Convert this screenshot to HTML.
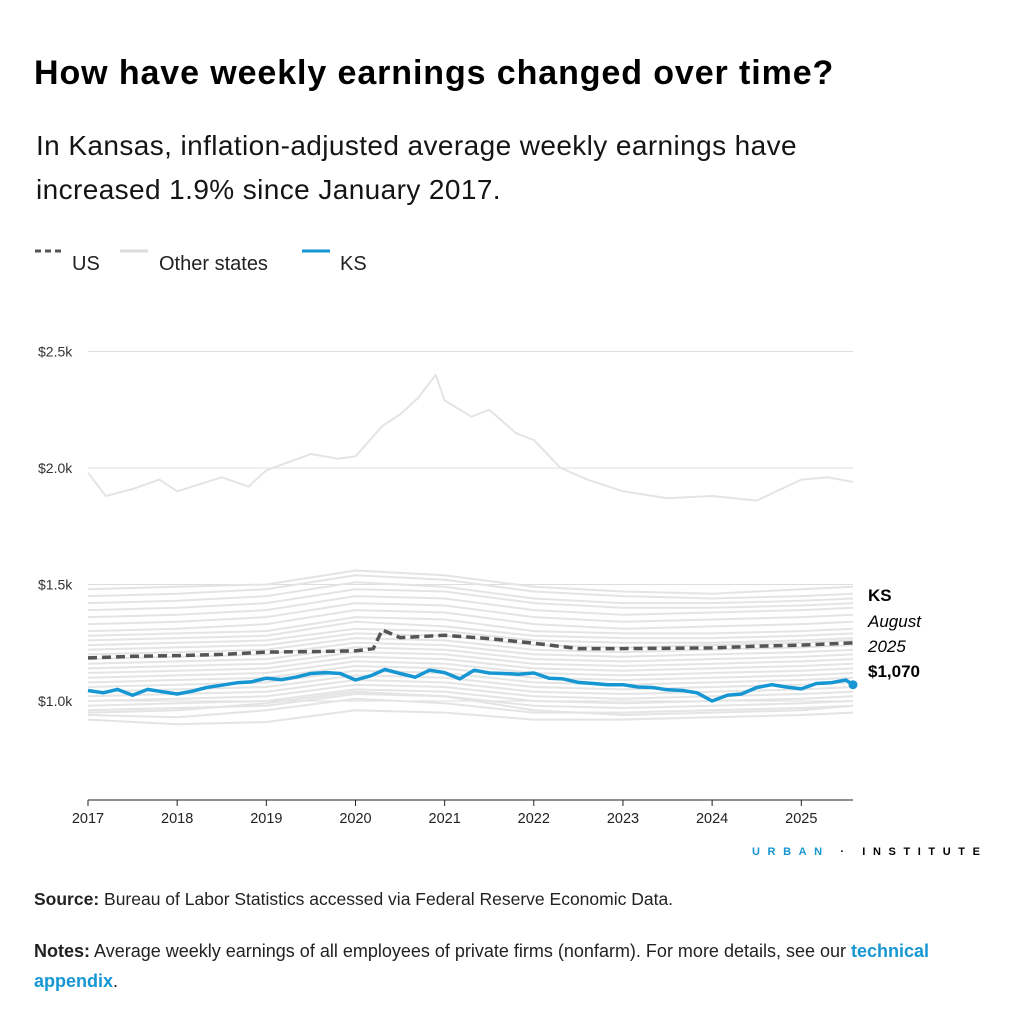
<!DOCTYPE html>
<html><head><meta charset="utf-8">
<style>
body{margin:0;background:#fff;font-family:"Liberation Sans",sans-serif;color:#000;}
#wrap{position:relative;width:1024px;height:1024px;overflow:hidden;}
.t{position:absolute;white-space:nowrap;}
</style></head><body>
<div id="wrap">
<div class="t" style="left:34px;top:54px;font-size:34px;font-weight:bold;letter-spacing:0.9px;">How have weekly earnings changed over time?</div>
<div class="t" style="left:36px;top:124px;font-size:28px;line-height:44px;letter-spacing:0.4px;color:#151515;">In Kansas, inflation-adjusted average weekly earnings have<br>increased 1.9% since January 2017.</div>
<svg width="1024" height="1024" style="position:absolute;left:0;top:0" id="svg">
<g font-family="Liberation Sans, sans-serif" font-size="20">
<line x1="35" y1="251" x2="63" y2="251" stroke="#555" stroke-width="3" stroke-dasharray="6,4"/>
<text x="72" y="270" fill="#222">US</text>
<line x1="120" y1="251" x2="148" y2="251" stroke="#ddd" stroke-width="3"/>
<text x="159" y="270" fill="#222">Other states</text>
<line x1="302" y1="251" x2="330" y2="251" stroke="#1696d2" stroke-width="3"/>
<text x="340" y="270" fill="#222">KS</text>
</g>
<g id="grid"></g><g id="others"></g><g id="main"></g><g id="axis"></g>
<g font-family="Liberation Sans, sans-serif" font-size="17">
<text x="868" y="601" font-weight="bold">KS</text>
<text x="868" y="627" font-style="italic">August</text>
<text x="868" y="652" font-style="italic">2025</text>
<text x="868" y="677" font-weight="bold">$1,070</text>
</g>
</svg>
<div class="t" style="left:752px;top:846px;font-size:11px;font-weight:bold;letter-spacing:7.6px;"><span style="color:#1696d2">URBAN</span> · INSTITUTE</div>
<div class="t" style="left:34px;top:889px;font-size:17.5px;color:#222;"><b>Source:</b> Bureau of Labor Statistics accessed via Federal Reserve Economic Data.</div>
<div class="t" style="left:34px;top:936px;font-size:18px;line-height:30px;color:#222;"><b>Notes:</b> Average weekly earnings of all employees of private firms (nonfarm). For more details, see our <span style="color:#1696d2;font-weight:bold">technical<br>appendix</span>.</div>
</div>
<script>
const yTicks=[1000,1500,2000,2500];
const yTickLabels=["$1.0k","$1.5k","$2.0k","$2.5k"];
const xYears=[2017,2018,2019,2020,2021,2022,2023,2024,2025];
const ksDates=[2017,2017.17,2017.33,2017.5,2017.67,2017.83,2018,2018.17,2018.33,2018.5,2018.67,2018.83,2019,2019.17,2019.33,2019.5,2019.67,2019.83,2020,2020.17,2020.33,2020.5,2020.67,2020.83,2021,2021.17,2021.33,2021.5,2021.67,2021.83,2022,2022.17,2022.33,2022.5,2022.67,2022.83,2023,2023.17,2023.33,2023.5,2023.67,2023.83,2024,2024.17,2024.33,2024.5,2024.67,2024.83,2025,2025.17,2025.33,2025.5,2025.58];
const ksValues=[1045,1035,1050,1025,1050,1040,1030,1042,1058,1068,1078,1082,1098,1092,1102,1118,1122,1118,1090,1108,1135,1118,1102,1132,1122,1095,1132,1120,1118,1115,1120,1098,1095,1080,1075,1070,1070,1060,1058,1048,1045,1035,1000,1025,1030,1058,1070,1060,1052,1075,1078,1090,1070];
const usDates=[2017,2017.5,2018,2018.5,2019,2019.5,2020,2020.2,2020.3,2020.5,2021,2021.5,2022,2022.5,2023,2023.5,2024,2024.5,2025,2025.58];
const usValues=[1185,1192,1195,1200,1210,1212,1215,1225,1305,1272,1282,1268,1248,1225,1225,1226,1228,1235,1240,1250];
const dcDates=[2017,2017.2,2017.5,2017.8,2018,2018.5,2018.8,2019,2019.5,2019.8,2020,2020.3,2020.5,2020.7,2020.9,2021,2021.3,2021.5,2021.8,2022,2022.3,2022.6,2023,2023.5,2024,2024.5,2025,2025.3,2025.58];
const dcValues=[1980,1880,1910,1950,1900,1960,1920,1990,2060,2040,2050,2180,2230,2300,2400,2290,2220,2250,2150,2120,2000,1950,1900,1870,1880,1860,1950,1960,1940];
const otherDates=[2017,2018,2019,2020,2021,2022,2023,2024,2025,2025.58];
const otherStates=[
[1480,1490,1500,1560,1540,1490,1470,1460,1480,1490],[1450,1460,1480,1540,1520,1470,1450,1440,1450,1460],
[1420,1430,1450,1510,1490,1440,1420,1420,1430,1440],[1390,1400,1420,1480,1470,1420,1400,1400,1410,1420],
[1360,1370,1390,1450,1440,1390,1370,1380,1390,1400],[1330,1340,1360,1420,1410,1360,1340,1350,1360,1370],
[1300,1310,1330,1390,1380,1330,1310,1320,1330,1340],[1280,1290,1300,1360,1350,1300,1290,1290,1300,1310],
[1260,1270,1280,1340,1320,1280,1270,1270,1280,1290],[1240,1250,1260,1310,1300,1260,1250,1250,1260,1270],
[1220,1230,1240,1290,1280,1240,1230,1240,1250,1260],[1200,1210,1220,1270,1260,1220,1210,1220,1230,1240],
[1180,1190,1200,1250,1240,1200,1190,1200,1210,1220],[1160,1170,1180,1230,1220,1180,1170,1180,1190,1200],
[1140,1150,1160,1210,1200,1160,1150,1160,1170,1180],[1120,1130,1140,1190,1180,1140,1130,1140,1150,1160],
[1100,1110,1120,1170,1160,1120,1110,1120,1130,1140],[1080,1090,1100,1150,1140,1100,1090,1100,1110,1120],
[1060,1070,1080,1130,1120,1080,1070,1080,1090,1100],[1040,1050,1060,1110,1100,1060,1050,1060,1070,1080],
[1020,1030,1040,1090,1080,1040,1030,1040,1050,1060],[1000,1010,1020,1070,1060,1020,1010,1020,1030,1040],
[980,990,1000,1050,1040,1000,990,1000,1010,1020],[960,970,980,1030,1020,980,970,980,990,1000],
[940,930,960,1010,990,950,950,960,970,980],[920,900,910,960,950,920,920,930,940,950],
[950,960,990,1040,1020,960,940,950,960,980]];
const X0=88,X1=853,T0=2017,T1=2025.58;
function xs(t){return X0+(t-T0)/(T1-T0)*(X1-X0);}
function ys(v){return 701-(v-1000)*116.5/500;}
const NS="http://www.w3.org/2000/svg";
function mk(tag,attrs,parent){const e=document.createElementNS(NS,tag);for(const k in attrs)e.setAttribute(k,attrs[k]);document.getElementById(parent).appendChild(e);return e;}
function pts(d,v){return d.map((t,i)=>xs(t).toFixed(1)+","+ys(v[i]).toFixed(1)).join(" ");}
yTicks.forEach((v,i)=>{
 const l=mk("line",{x1:88,x2:853,y1:ys(v),y2:ys(v),stroke:"#dedede","stroke-width":1},"grid");
 
 
 const t=mk("text",{x:38,y:ys(v)+5,"font-size":14,fill:"#333","font-family":"Liberation Sans, sans-serif"},"grid");
 t.textContent=yTickLabels[i];
 
 
});
otherStates.forEach(s=>{
 const p=mk("polyline",{points:pts(otherDates,s),fill:"none",stroke:"#e4e4e4","stroke-width":2,"stroke-linejoin":"round"},"others");
 
 
});
const dc=mk("polyline",{points:pts(dcDates,dcValues),fill:"none",stroke:"#e4e4e4","stroke-width":2,"stroke-linejoin":"round"},"others");


const us=mk("polyline",{points:pts(usDates,usValues),fill:"none",stroke:"#555","stroke-width":3.5,"stroke-dasharray":"9,5"},"main");


const ks=mk("polyline",{points:pts(ksDates,ksValues),fill:"none",stroke:"#1696d2","stroke-width":3.5,"stroke-linejoin":"round"},"main");


const n=ksDates.length-1;
const dot=mk("circle",{cx:xs(ksDates[n]),cy:ys(ksValues[n]),r:4.5,fill:"#1696d2"},"main");


const ax=mk("line",{x1:88,x2:853,y1:800,y2:800,stroke:"#222","stroke-width":1},"axis");


xYears.forEach(yr=>{
 const tk=mk("line",{x1:xs(yr),x2:xs(yr),y1:800,y2:806,stroke:"#222"},"axis");
 
 
 const t=mk("text",{x:xs(yr),y:823,"text-anchor":"middle","font-size":14.5,fill:"#222","font-family":"Liberation Sans, sans-serif"},"axis");
 t.textContent=yr;
 
 
});
</script>
</body></html>
